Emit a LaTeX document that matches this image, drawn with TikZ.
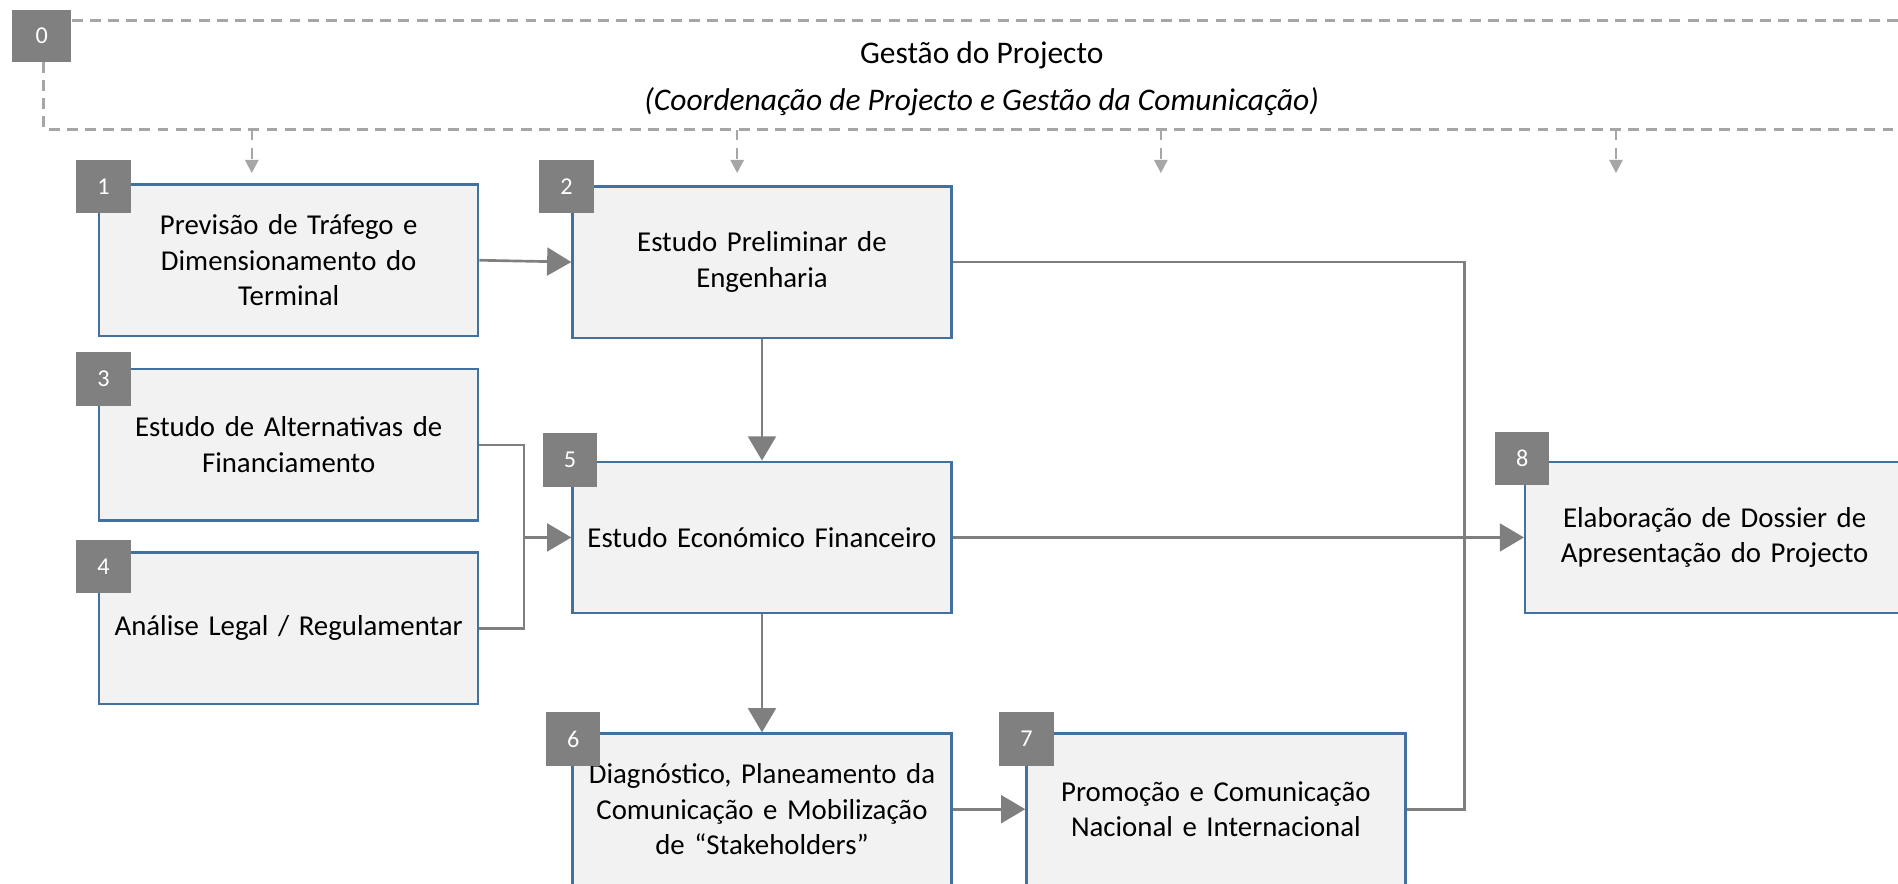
\documentclass[tikz,border=0pt]{standalone}
\usepackage{fontspec}
\setmainfont{Carlito}
\usetikzlibrary{arrows.meta}
\definecolor{boxfill}{HTML}{F2F2F2}
\definecolor{boxline}{HTML}{41719C}
\definecolor{badgegray}{HTML}{808080}
\definecolor{conngray}{HTML}{7F7F7F}
\definecolor{dashgray}{HTML}{A6A6A6}
\tikzset{
  stepbox/.style={draw=boxline, fill=boxfill, line width=2pt, minimum width=313pt, minimum height=125pt, text width=305pt, align=center, inner sep=0pt, font=\fontsize{23.8}{29.5}\selectfont},
  badge/.style={fill=badgegray, minimum width=45pt, minimum height=44pt, inner sep=0pt, text=white, font=\fontsize{20}{22}\selectfont},
  conn/.style={draw=conngray, line width=2.2pt, -{Triangle[length=20pt,width=23pt]}},
  plainconn/.style={draw=conngray, line width=2.2pt},
  dashline/.style={draw=dashgray, line width=2pt, dash pattern=on 9pt off 6pt},
  dasharrow/.style={draw=dashgray, line width=2pt, dash pattern=on 9pt off 6pt, -{Triangle[length=11pt,width=11pt]}},
}
\begin{document}
\begin{tikzpicture}[x=1pt,y=-1pt]
\useasboundingbox (0,0) rectangle (1568,730);
\clip (0,0) rectangle (1568,730);
% frame of item 0
\node[badge, minimum width=49pt, minimum height=43pt] (b0) at (34.5,29.5) {0};
\coordinate (topr) at (1580,17);
\coordinate (botl) at (36,107);
\coordinate (botr) at (1580,107);
\draw[dashline] (b0.east |- topr) -- (topr);
\draw[dashline] (b0.south -| botl) -- (botl) -- (botr);
\node[font=\fontsize{26}{30}\selectfont] (t1) at (811,46) {Gestão do Projecto};
\node[font=\fontsize{26}{30}\selectfont\itshape] (t2) at (811,84) {(Coordenação de Projecto e Gestão da Comunicação)};
\foreach \i/\x in {1/208,2/609,3/959,4/1335}{
  \coordinate (ds\i) at (\x,107);
  \coordinate (de\i) at (\x,143);
  \draw[dasharrow] (ds\i) -- (de\i);
}
% boxes
\node[stepbox] (s1) at (238.5,215) {Previsão de Tráfego e\\Dimensionamento do\\Terminal};
\node[stepbox] (s2) at (629.5,216.5) {Estudo Preliminar de\\Engenharia};
\node[stepbox] (s3) at (238.5,367.5) {Estudo de Alternativas de\\Financiamento};
\node[stepbox] (s4) at (238.5,519) {Análise Legal / Regulamentar};
\node[stepbox] (s5) at (629.5,444) {Estudo Económico Financeiro};
\node[stepbox] (s6) at (629.5,668.5) {Diagnóstico, Planeamento da\\Comunicação e Mobilização\\de “Stakeholders”};
\node[stepbox] (s7) at (1004.5,668.5) {Promoção e Comunicação\\Nacional e Internacional};
\node[stepbox] (s8) at (1416.5,444) {Elaboração de Dossier de\\Apresentação do Projecto};
% badges
\node[badge] (n1) at (85.5,154) {1};
\node[badge] (n2) at (468,154) {2};
\node[badge] (n3) at (85.5,313) {3};
\node[badge] (n4) at (85.5,468) {4};
\node[badge] (n5) at (471,380) {5};
\node[badge] (n6) at (473.5,610.5) {6};
\node[badge] (n7) at (848,610.5) {7};
\node[badge] (n8) at (1257.5,379) {8};
% connectors
\coordinate (jl) at (433,444);
\coordinate (jr) at (1210,444);
\draw[conn] (s1.east) -- (s2.west);
\draw[conn] (s2.south) -- (s5.north);
\draw[plainconn] (s3.east) -| (jl) |- (s4.east);
\draw[conn] (jl) -- (s5.west);
\draw[plainconn] (s2.east) -| (jr) |- (s7.east);
\draw[conn] (s5.east) -- (s8.west);
\draw[conn] (s5.south) -- (s6.north);
\draw[conn] (s6.east) -- (s7.west);
\end{tikzpicture}
\end{document}
